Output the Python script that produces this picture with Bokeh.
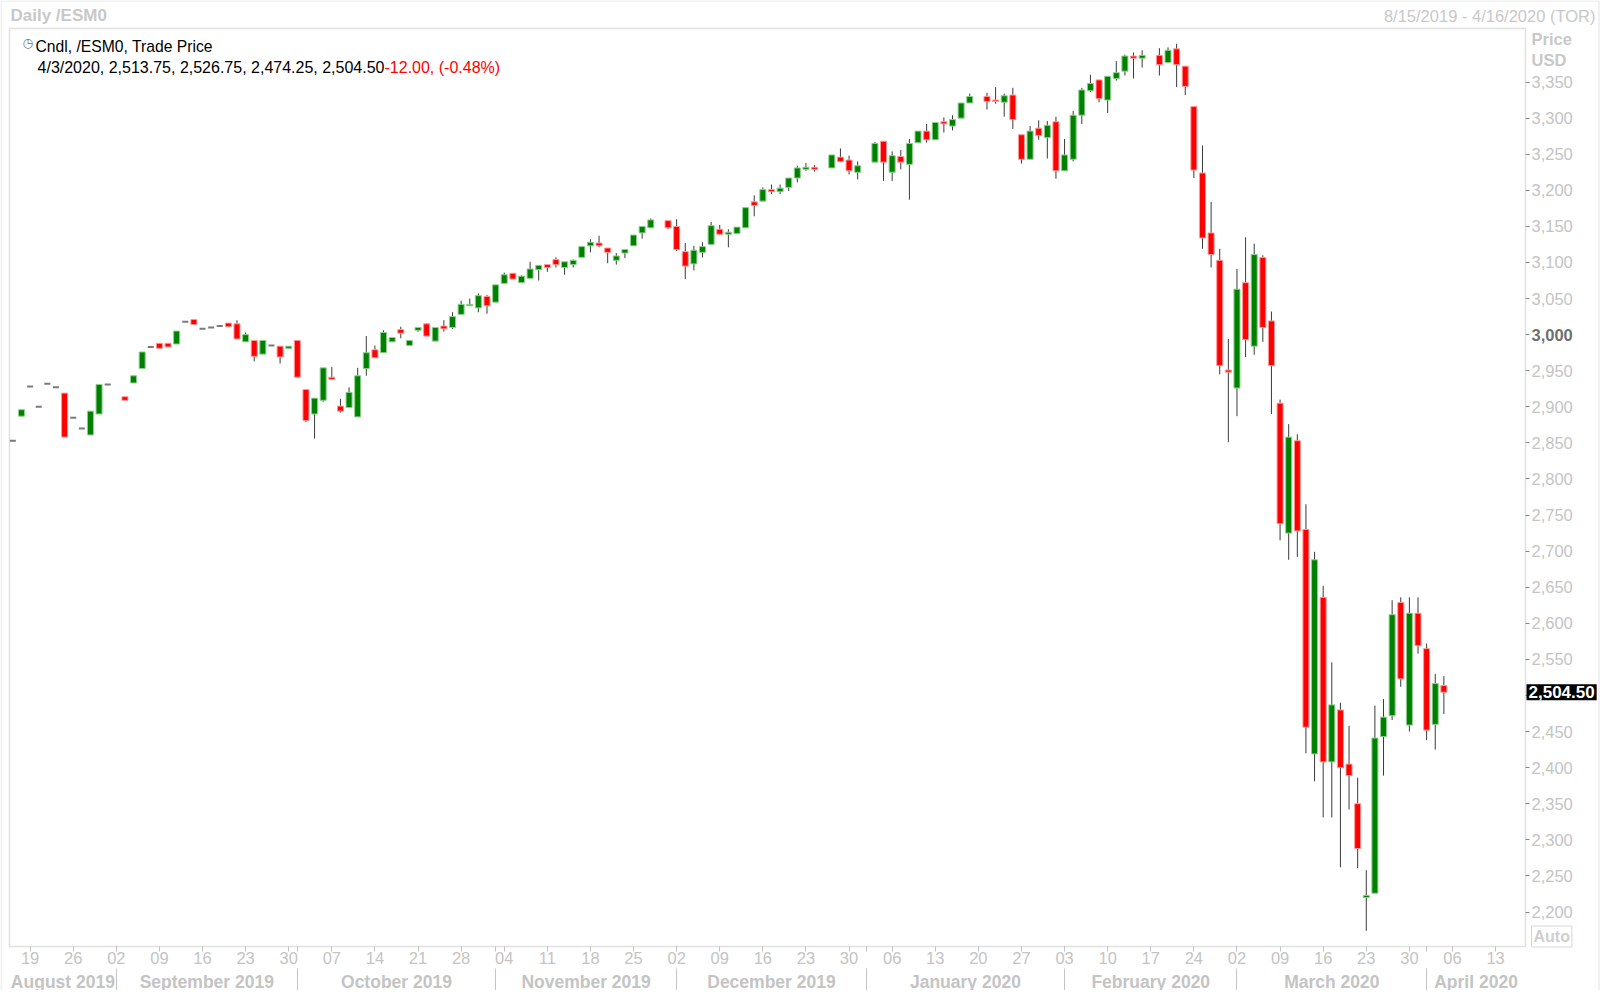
import numpy as np
import pandas as pd
from bokeh.plotting import figure
from bokeh.models import (ColumnDataSource, LinearAxis, FixedTicker, Range1d, Label,
                          NumeralTickFormatter, BoxAnnotation)
from bokeh.embed import file_html
from bokeh.resources import INLINE

# ---------------- data ----------------
FIRST_SLOT = "2019-08-15"
LAST_SLOT = "2020-04-16"
LAST_BAR = "2020-04-03"
HOLIDAYS = ["2019-09-02", "2019-11-28", "2019-12-25", "2020-01-01", "2020-01-20", "2020-02-17"]

OPEN = [
    2853, 2887, 2928, 2900, 2932, 2927, 2919, 2885, 2870, 2861, 2890, 2931,
    2914, 2933, 2953, 2983, 2988, 2988, 2987, 3018, 3021, 3008, 3010, 3012, 3016, 3015, 2990, 2992, 2973, 2985, 2984, 2981,
    2992, 2924, 2890, 2909, 2941, 2901, 2899, 2886, 2953, 2979, 2975, 2990, 3007, 2985, 3006, 3015, 2991, 3012, 3010, 3028, 3040, 3037, 3053,
    3045, 3071, 3085, 3072, 3078, 3090, 3097, 3104, 3093, 3097, 3107, 3123, 3127, 3120, 3103, 3113, 3123, 3141, 3148, 3158,
    3150, 3115, 3098, 3114, 3125, 3146, 3139, 3140, 3148, 3184, 3185, 3201, 3198, 3204, 3217, 3229, 3232, 3231, 3246, 3242, 3225,
    3239, 3268, 3225, 3247, 3236, 3266, 3282, 3270, 3295, 3289, 3300, 3321, 3330, 3325, 3322, 3332, 3277, 3243, 3286, 3273, 3295,
    3227, 3243, 3304, 3338, 3353, 3325, 3355, 3365, 3386, 3383, 3387, 3377, 3396, 3372, 3316, 3224, 3141, 3103, 2951,
    2926, 3072, 2984, 3107, 3019, 2905, 2725, 2853, 2730, 2419, 2636, 2408, 2480, 2405, 2350, 2220, 2226, 2443, 2472, 2629, 2459, 2614,
    2565, 2460, 2513.75,
]
HIGH = [
    2853, 2896, 2928, 2900, 2932, 2927, 2919, 2885, 2870, 2894, 2931, 2931,
    2914, 2943, 2976, 2983, 2988, 2988, 3005, 3018, 3021, 3008, 3010, 3012, 3016, 3020, 3003, 2992, 2992, 2985, 2984, 2984,
    2992, 2924, 2912, 2954, 2955, 2911, 2927, 2954, 2998, 2985, 3006, 2996, 3011, 2992, 3010, 3016, 3010, 3020, 3031, 3047, 3050, 3057, 3055,
    3069, 3086, 3085, 3082, 3101, 3096, 3097, 3107, 3101, 3104, 3122, 3132, 3137, 3120, 3113, 3118, 3138, 3150, 3161, 3158,
    3160, 3127, 3123, 3128, 3156, 3152, 3146, 3149, 3176, 3193, 3204, 3208, 3208, 3217, 3234, 3238, 3235, 3249, 3258, 3248, 3240,
    3267, 3268, 3254, 3256, 3271, 3282, 3292, 3294, 3301, 3304, 3321, 3334, 3335, 3343, 3334, 3342, 3277, 3289, 3297, 3296, 3302,
    3271, 3310, 3342, 3360, 3353, 3358, 3379, 3388, 3391, 3394, 3397, 3398, 3403, 3372, 3316, 3262, 3184, 3119, 2994,
    3091, 3135, 3126, 3110, 3032, 2910, 2876, 2862, 2765, 2699, 2652, 2546, 2490, 2458, 2386, 2258, 2486, 2495, 2632, 2636, 2636, 2636,
    2572, 2530, 2526.75,
]
LOW = [
    2853, 2887, 2928, 2900, 2932, 2927, 2858, 2885, 2870, 2861, 2890, 2931,
    2909, 2933, 2953, 2983, 2981, 2983, 2987, 3018, 3014, 3008, 3010, 3012, 3011, 2994, 2990, 2963, 2973, 2985, 2960, 2981,
    2941, 2879, 2856, 2907, 2937, 2892, 2899, 2886, 2943, 2968, 2975, 2990, 2995, 2985, 3004, 2998, 2991, 3004, 3008, 3028, 3040, 3031, 3029,
    3045, 3071, 3077, 3072, 3078, 3075, 3087, 3093, 3083, 3093, 3107, 3114, 3121, 3099, 3097, 3106, 3123, 3133, 3148, 3146,
    3116, 3077, 3089, 3107, 3125, 3139, 3121, 3140, 3148, 3164, 3185, 3195, 3195, 3199, 3211, 3227, 3226, 3231, 3239, 3222, 3215,
    3239, 3213, 3213, 3229, 3187, 3266, 3266, 3270, 3280, 3283, 3300, 3321, 3312, 3320, 3302, 3285, 3237, 3243, 3270, 3244, 3216,
    3227, 3240, 3292, 3336, 3322, 3307, 3352, 3359, 3355, 3370, 3359, 3377, 3343, 3332, 3217, 3119, 3093, 2945, 2851,
    2887, 2969, 2972, 2990, 2890, 2715, 2688, 2692, 2420, 2381, 2331, 2331, 2262, 2342, 2261, 2174, 2226, 2389, 2466, 2512, 2450, 2558,
    2438, 2425, 2474.25,
]
CLOSE = [
    2853, 2896, 2928, 2900, 2932, 2927, 2858, 2885, 2870, 2894, 2931, 2931,
    2909, 2943, 2976, 2983, 2981, 2983, 3005, 3018, 3014, 3008, 3010, 3012, 3011, 2994, 3000, 2970, 2992, 2985, 2969, 2984,
    2941, 2881, 2912, 2954, 2938, 2894, 2920, 2943, 2975, 2968, 3003, 2996, 3002, 2992, 3010, 2998, 3010, 3008, 3025, 3042, 3042, 3054, 3040,
    3069, 3083, 3077, 3081, 3091, 3096, 3093, 3097, 3101, 3103, 3122, 3128, 3123, 3114, 3109, 3118, 3138, 3150, 3159, 3148,
    3118, 3095, 3117, 3122, 3151, 3139, 3142, 3149, 3176, 3179, 3201, 3198, 3203, 3217, 3231, 3232, 3229, 3249, 3240, 3227, 3234,
    3265, 3239, 3248, 3239, 3265, 3282, 3270, 3294, 3292, 3298, 3321, 3330, 3323, 3323, 3331, 3298, 3243, 3282, 3276, 3290, 3227,
    3249, 3304, 3339, 3348, 3327, 3358, 3363, 3386, 3383, 3387, 3374, 3394, 3374, 3344, 3228, 3134, 3111, 2957, 2948,
    3063, 2993, 3111, 3010, 2957, 2738, 2858, 2728, 2456, 2688, 2408, 2487, 2400, 2389, 2288, 2223, 2441, 2470, 2612, 2523, 2614, 2569,
    2452, 2516.5, 2504.5,
]

DAY_TICK_LABELS = ["19", "26", "02", "09", "16", "23", "30", "07", "14", "21", "28", "04", "11", "18", "25",
                   "02", "09", "16", "23", "30", "06", "13", "20", "27", "03", "10", "17", "24", "02", "09",
                   "16", "23", "30", "06", "13"]
MONTH_LABELS = ["August 2019", "September 2019", "October 2019", "November 2019", "December 2019",
                "January 2020", "February 2020", "March 2020", "April 2020"]
PRICE_TICKS = list(range(2200, 3351, 50))

TITLE_LEFT = "Daily /ESM0"
TITLE_RIGHT = "8/15/2019 - 4/16/2020 (TOR)"
LEGEND_1 = "Cndl, /ESM0, Trade Price"
LEGEND_2 = "4/3/2020, 2,513.75, 2,526.75, 2,474.25, 2,504.50"
LEGEND_CHG = "-12.00, (-0.48%)"
LAST_PRICE_TXT = "2,504.50"

# ---------------- geometry (page pixels) ----------------
W, H = 1600, 990
SLOT_X0, SLOT_DX = 12.36, 8.6205      # page column of slot 0, px per weekday slot
PRICE_Y0, PRICE_DY = 911.5, 0.7217    # page row of 2,200, px per index point
PLOT_L, PLOT_R, PLOT_T, PLOT_B = 9, 1525, 28, 946


def dx(px):
    return (px - SLOT_X0) / SLOT_DX


def dy(py):
    return 2200 + (PRICE_Y0 - py) / PRICE_DY


# ---------------- derived positions ----------------
slots = pd.bdate_range(FIRST_SLOT, LAST_SLOT)
slot_index = {d: i for i, d in enumerate(slots)}
trade_days = [d for d in pd.bdate_range(FIRST_SLOT, LAST_BAR) if d.strftime("%Y-%m-%d") not in HOLIDAYS]
assert len(trade_days) == len(OPEN) == len(HIGH) == len(LOW) == len(CLOSE)

x = np.array([slot_index[d] for d in trade_days], dtype=float)
o = np.array(OPEN, float); h = np.array(HIGH, float); l = np.array(LOW, float); c = np.array(CLOSE, float)

mondays = [i for i, d in enumerate(slots) if d.weekday() == 0]
month_starts = []
prev = None
for i, d in enumerate(slots):
    if prev is not None and d.month != prev:
        month_starts.append(i)
    prev = d.month
edges = [dx(PLOT_L)] + month_starts + [dx(PLOT_R)]
month_centers = [(edges[k] + edges[k + 1]) / 2 for k in range(len(edges) - 1)]

FONT = "Liberation Sans"
LIGHT = "#c4c4c4"

p = figure(width=W, height=H, x_range=Range1d(dx(0), dx(W)), y_range=Range1d(dy(H), dy(0)),
           toolbar_location=None, output_backend="svg",
           x_axis_location=None, y_axis_location=None,
           min_border=0, min_border_left=0, min_border_right=0, min_border_top=0, min_border_bottom=0,
           background_fill_color="white", border_fill_color="white", outline_line_color=None)
p.grid.visible = False

# frames
p.add_layout(BoxAnnotation(left=dx(0.5), right=dx(W - 1.5), top=dy(0.5), bottom=dy(H + 20),
                           fill_color=None, line_color="#cfcfcf", line_width=2))
p.add_layout(BoxAnnotation(left=dx(PLOT_L), right=dx(PLOT_R), top=dy(PLOT_T), bottom=dy(PLOT_B),
                           fill_color=None, line_color="#9a9a9a", line_width=1.5))

# ---------------- candles ----------------
up = c > o
dn = c < o
fl = c == o

wick_src = ColumnDataSource(dict(x=x[~fl], high=h[~fl], low=l[~fl]))
p.segment(x0="x", y0="high", x1="x", y1="low", source=wick_src, line_color="#3a3a3a", line_width=1)

BW = 0.7
up_src = ColumnDataSource(dict(x=x[up], top=c[up], bottom=o[up]))
dn_src = ColumnDataSource(dict(x=x[dn], top=o[dn], bottom=c[dn]))
p.vbar(x="x", width=BW, top="top", bottom="bottom", source=up_src,
       fill_color="#008000", line_color="#8fd08f", line_width=1)
p.vbar(x="x", width=BW, top="top", bottom="bottom", source=dn_src,
       fill_color="#ff0000", line_color="#ff9a9a", line_width=1)
fl_src = ColumnDataSource(dict(x0=x[fl] - BW / 2, x1=x[fl] + BW / 2, y=c[fl]))
p.segment(x0="x0", y0="y", x1="x1", y1="y", source=fl_src, line_color="#7a7a7a", line_width=2)

# ---------------- axes (drawn at the plot-area edges) ----------------
yaxis = LinearAxis(ticker=FixedTicker(ticks=PRICE_TICKS, minor_ticks=[]),
                   formatter=NumeralTickFormatter(format="0,0"),
                   major_label_overrides={3000: "", 2500: ""},
                   fixed_location=dx(PLOT_R))
yaxis.axis_line_color = None
yaxis.major_tick_line_color = "#8a8a8a"
yaxis.major_tick_out = 4
yaxis.major_tick_in = 0
yaxis.minor_tick_line_color = None
yaxis.major_label_text_color = LIGHT
yaxis.major_label_text_font = FONT
yaxis.major_label_text_font_size = "16.5px"
yaxis.major_label_standoff = 2
p.add_layout(yaxis, "right")

daxis = LinearAxis(ticker=FixedTicker(ticks=mondays, minor_ticks=month_starts),
                   major_label_overrides={m: t for m, t in zip(mondays, DAY_TICK_LABELS)},
                   fixed_location=dy(PLOT_B))
daxis.axis_line_color = None
daxis.major_tick_line_color = LIGHT
daxis.minor_tick_line_color = LIGHT
daxis.major_tick_out = 5
daxis.major_tick_in = 0
daxis.minor_tick_out = 5
daxis.minor_tick_in = 0
daxis.major_label_text_color = LIGHT
daxis.major_label_text_font = FONT
daxis.major_label_text_font_size = "16.5px"
daxis.major_label_standoff = 0
p.add_layout(daxis, "below")

maxis = LinearAxis(ticker=FixedTicker(ticks=month_centers, minor_ticks=[]),
                   major_label_overrides={m: t for m, t in zip(month_centers, MONTH_LABELS)},
                   fixed_location=dy(PLOT_B))
maxis.axis_line_color = None
maxis.major_tick_line_color = None
maxis.major_tick_out = 0
maxis.minor_tick_line_color = None
maxis.major_label_text_color = LIGHT
maxis.major_label_text_font = FONT
maxis.major_label_text_font_style = "bold"
maxis.major_label_text_font_size = "17.5px"
maxis.major_label_standoff = 25
p.add_layout(maxis, "below")

sep_axis = LinearAxis(ticker=FixedTicker(ticks=[], minor_ticks=month_starts),
                      fixed_location=dy(968))
sep_axis.axis_line_color = None
sep_axis.major_tick_line_color = None
sep_axis.minor_tick_line_color = LIGHT
sep_axis.minor_tick_out = 22
sep_axis.minor_tick_in = 0
sep_axis.major_label_text_font_size = "0px"
p.add_layout(sep_axis, "below")

# ---------------- texts ----------------
def lab(px, py, text, size, color, bold=False, align="left", font=FONT, **kw):
    p.add_layout(Label(x=dx(px), y=dy(py), text=text, text_font=font,
                       text_font_size=size, text_color=color,
                       text_font_style="bold" if bold else "normal",
                       text_align=align, text_baseline="middle", **kw))


lab(10, 15, TITLE_LEFT, "17px", "#c8c8c8", bold=True)
lab(1595, 15, TITLE_RIGHT, "16.5px", "#c8c8c8", align="right")
lab(22, 42, "\u25F7", "12px", "#56708c", font="DejaVu Sans")
lab(35, 46, LEGEND_1, "15.7px", "#000000")
lab(384, 67, LEGEND_2, "16px", "#000000", align="right")
lab(384, 67, LEGEND_CHG, "16px", "#ff0000")
lab(1531, 38, "Price", "16.5px", "#c8c8c8", bold=True)
lab(1531, 59, "USD", "16.5px", "#c8c8c8", bold=True)
p.add_layout(Label(x=dx(1531), y=3000, text="3,000", text_font=FONT, text_font_size="16.5px",
                   text_color="#707070", text_font_style="bold", text_align="left", text_baseline="middle"))
p.add_layout(Label(x=dx(PLOT_R + 1), y=CLOSE[-1], text=LAST_PRICE_TXT, text_font=FONT, text_font_size="17px",
                   text_color="white", text_font_style="bold", text_align="left", text_baseline="middle",
                   background_fill_color="black", padding=2))
p.add_layout(Label(x=dx(1531), y=dy(936), text="Auto", text_font=FONT, text_font_size="16px",
                   text_color="#cfcfcf", text_font_style="bold", text_align="left", text_baseline="middle",
                   border_line_color="#d6d6d6", padding=2))

open("out.html", "w").write(file_html(p, INLINE))
